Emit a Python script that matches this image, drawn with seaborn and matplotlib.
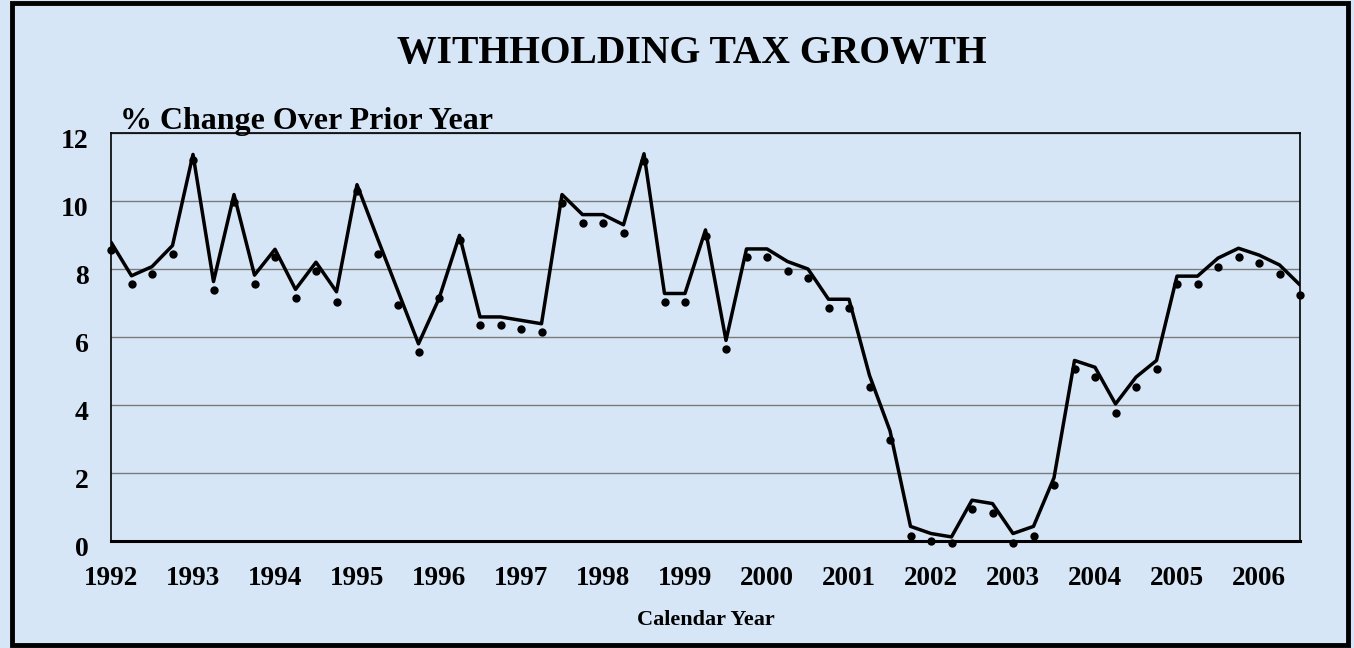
import numpy as np
import pandas as pd
import seaborn as sns
import matplotlib.pyplot as plt
import matplotlib.transforms as mtransforms
from matplotlib.patches import Rectangle

# Quarterly data, 1992 Q1 through 2006 Q3
years = [str(y) for y in range(1992, 2007)]

line_values = [
    8.79, 7.80, 8.07, 8.69,   # 1992
    11.37, 7.63, 10.19, 7.82,  # 1993
    8.58, 7.40, 8.20, 7.33,   # 1994
    10.48, 8.90, 7.35, 5.80,  # 1995
    7.13, 8.99, 6.59, 6.59,   # 1996
    6.49, 6.39, 10.19, 9.60,  # 1997
    9.60, 9.30, 11.39, 7.28,  # 1998
    7.28, 9.15, 5.90, 8.59,   # 1999
    8.59, 8.22, 8.00, 7.11,   # 2000
    7.11, 4.87, 3.24, 0.43,   # 2001
    0.22, 0.12, 1.20, 1.10,   # 2002
    0.22, 0.43, 1.86, 5.31,   # 2003
    5.11, 4.03, 4.82, 5.31,   # 2004
    7.79, 7.79, 8.32, 8.61,   # 2005
    8.41, 8.12, 7.53,         # 2006
]

dot_values = [
    8.56, 7.55, 7.84, 8.43,
    11.20, 7.38, 9.97, 7.55,
    8.34, 7.16, 7.95, 7.04,
    10.29, 8.43, 6.94, 5.56,
    7.16, 8.86, 6.36, 6.36,
    6.25, 6.15, 9.94, 9.35,
    9.35, 9.05, 11.17, 7.03,
    7.03, 8.98, 5.66, 8.34,
    8.34, 7.95, 7.74, 6.86,
    6.86, 4.54, 2.98, 0.16,
    0.00, -0.05, 0.95, 0.83,
    -0.05, 0.16, 1.66, 5.06,
    4.82, 3.76, 4.54, 5.06,
    7.55, 7.55, 8.05, 8.34,
    8.17, 7.84, 7.25,
]

df = pd.DataFrame({
    'quarter': np.arange(len(line_values)),
    'line': line_values,
    'dots': dot_values,
})

sns.set_style('white')
plt.rcParams['font.family'] = ['Liberation Serif', 'DejaVu Serif']
plt.rcParams['font.weight'] = 'bold'
plt.rcParams['text.color'] = 'black'
plt.rcParams['xtick.color'] = 'black'
plt.rcParams['ytick.color'] = 'black'

bg = '#d6e6f6'
fig = plt.figure(figsize=(13.54, 6.48), dpi=100, facecolor=bg)
ax = fig.add_axes([111 / 1354, 1 - 541 / 648, 1189 / 1354, 408 / 648])
ax.set_facecolor('none')

sns.lineplot(data=df, x='quarter', y='line', color='black', linewidth=2.5, ax=ax)
sns.scatterplot(data=df, x='quarter', y='dots', color='black', s=36, edgecolor='black',
                linewidth=0, ax=ax, zorder=3, clip_on=False)

ax.set_xlim(0, len(line_values) - 1)
ax.set_ylim(0, 12)
ax.set_yticks(range(0, 13, 2))
ax.set_yticklabels([str(v) for v in range(0, 13, 2)], fontsize=20, fontweight='bold')
ax.grid(axis='y', color='#7a7a7a', linewidth=1)
ax.set_axisbelow(True)

ax.set_xticks(range(len(line_values)))
xlabels = [years[i // 4] if i % 4 == 0 else '' for i in range(len(line_values))]
ax.set_xticklabels(xlabels, fontsize=19.5, fontweight='bold')
ax.tick_params(axis='x', direction='out', length=6, width=1, color='black', pad=12)
ax.tick_params(axis='y', length=0, pad=16)

# y labels sit a little below their gridlines in the original
shift = mtransforms.ScaledTranslation(0, -6 / 100, fig.dpi_scale_trans)
for lbl in ax.get_yticklabels():
    lbl.set_transform(lbl.get_transform() + shift)

for side in ['left', 'right', 'top']:
    ax.spines[side].set_visible(True)
    ax.spines[side].set_color('black')
    ax.spines[side].set_linewidth(1.2)
ax.spines['bottom'].set_color('black')
ax.spines['bottom'].set_linewidth(2.2)

ax.set_xlabel('')
ax.set_ylabel('')

fig.text(692 / 1354, 1 - 53 / 648, 'WITHHOLDING TAX GROWTH', ha='center', va='center',
         fontsize=28.5, fontweight='bold')
fig.text(120 / 1354, 1 - 129 / 648, '% Change Over Prior Year', ha='left', va='baseline',
         fontsize=23, fontweight='bold')
fig.text(706 / 1354, 1 - 620 / 648, 'Calendar Year', ha='center', va='center',
         fontsize=16, fontweight='bold')

fig.patches.append(Rectangle((12 / 1354, 3 / 648), 1336 / 1354, 642 / 648,
                             transform=fig.transFigure, fill=False,
                             edgecolor='black', linewidth=3.5))

fig.savefig('out.png', dpi=100, facecolor=bg)
